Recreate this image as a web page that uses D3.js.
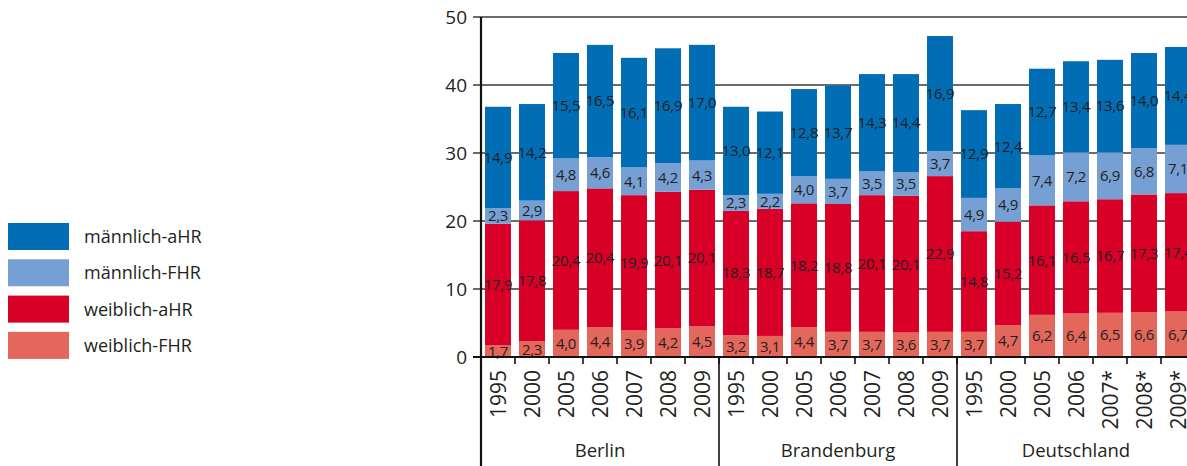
<!DOCTYPE html>
<html>
<head>
<meta charset="utf-8">
<script src="https://cdn.jsdelivr.net/npm/d3@7"></script>
<style>
  body { margin: 0; background: #fff; }
  svg { display: block; font-family: "Open Sans", sans-serif; }
</style>
</head>
<body>
<svg width="1187" height="466"></svg>
<script>
const svg = d3.select("svg");

// groups and years (x axis)
const groups = ["Berlin", "Brandenburg", "Deutschland"];
const years = [
    ["1995", "2000", "2005", "2006", "2007", "2008", "2009"],
    ["1995", "2000", "2005", "2006", "2007", "2008", "2009"],
    ["1995", "2000", "2005", "2006", "2007*", "2008*", "2009*"]
];

// series, bottom to top (Berlin, Brandenburg, Deutschland)
const weiblichFHR = [1.7, 2.3, 4.0, 4.4, 3.9, 4.2, 4.5,  3.2, 3.1, 4.4, 3.7, 3.7, 3.6, 3.7,  3.7, 4.7, 6.2, 6.4, 6.5, 6.6, 6.7];
const weiblichAHR = [17.9, 17.8, 20.4, 20.4, 19.9, 20.1, 20.1,  18.3, 18.7, 18.2, 18.8, 20.1, 20.1, 22.9,  14.8, 15.2, 16.1, 16.5, 16.7, 17.3, 17.4];
const maennlichFHR = [2.3, 2.9, 4.8, 4.6, 4.1, 4.2, 4.3,  2.3, 2.2, 4.0, 3.7, 3.5, 3.5, 3.7,  4.9, 4.9, 7.4, 7.2, 6.9, 6.8, 7.1];
const maennlichAHR = [14.9, 14.2, 15.5, 16.5, 16.1, 16.9, 17.0,  13.0, 12.1, 12.8, 13.7, 14.3, 14.4, 16.9,  12.9, 12.4, 12.7, 13.4, 13.6, 14.0, 14.4];

const seriesNames = ["weiblich-FHR", "weiblich-aHR", "männlich-FHR", "männlich-aHR"];
const seriesValues = [weiblichFHR, weiblichAHR, maennlichFHR, maennlichAHR];
const colors = ["#e3675b", "#d80027", "#769fd3", "#006db5"];
const yTicks = [0, 10, 20, 30, 40, 50];

// build table for d3.stack
const rows = [];
groups.forEach((g, gi) => {
    years[gi].forEach((yr, yi) => {
        const idx = gi * 7 + yi;
        const row = { key: g + "|" + yr, group: g, year: yr };
        seriesNames.forEach((s, si) => row[s] = seriesValues[si][idx]);
        rows.push(row);
    });
});

const stacked = d3.stack().keys(seriesNames)(rows);

const x0 = 481;
const bandW = 34;
const x = d3.scaleBand()
    .domain(rows.map(d => d.key))
    .range([x0, x0 + bandW * rows.length])
    .paddingInner(8 / 34)
    .paddingOuter(4 / 34);

const y = d3.scaleLinear().domain([0, 50]).range([357, 17]);

// gridlines
svg.append("g")
    .selectAll("line")
    .data(yTicks.filter(d => d > 0))
    .enter().append("line")
    .attr("x1", x0 - 8)
    .attr("x2", 1187)
    .attr("y1", d => y(d))
    .attr("y2", d => y(d))
    .attr("stroke", "#3a3a3a")
    .attr("stroke-width", 1.6);

// y tick labels
svg.append("g")
    .selectAll("text")
    .data(yTicks)
    .enter().append("text")
    .attr("x", x0 - 14)
    .attr("y", d => y(d))
    .attr("dy", "0.36em")
    .attr("text-anchor", "end")
    .attr("font-size", 19)
    .attr("fill", "#231f20")
    .text(d => d);

// bars
const layers = svg.append("g")
    .selectAll("g")
    .data(stacked)
    .enter().append("g")
    .attr("fill", (d, i) => colors[i]);

layers.selectAll("rect")
    .data(d => d)
    .enter().append("rect")
    .attr("x", d => x(d.data.key))
    .attr("width", x.bandwidth())
    .attr("y", d => y(d[1]))
    .attr("height", d => y(d[0]) - y(d[1]));

// value labels
layers.selectAll("text")
    .data((d, i) => d.map(p => ({ p: p, key: seriesNames[i] })))
    .enter().append("text")
    .attr("x", d => x(d.p.data.key) + x.bandwidth() / 2)
    .attr("y", d => y((d.p[0] + d.p[1]) / 2))
    .attr("dy", "0.36em")
    .attr("text-anchor", "middle")
    .attr("font-size", 15)
    .attr("letter-spacing", -0.3)
    .attr("fill", "#231f20")
    .text(d => d3.format(".1f")(d.p.data[d.key]).replace(".", ","));

// zero axis line
svg.append("line")
    .attr("x1", x0 - 8)
    .attr("x2", 1187)
    .attr("y1", y(0))
    .attr("y2", y(0))
    .attr("stroke", "#111")
    .attr("stroke-width", 2);

// small ticks between bars
svg.append("g")
    .selectAll("line")
    .data(d3.range(rows.length + 1))
    .enter().append("line")
    .attr("x1", i => x0 + i * bandW)
    .attr("x2", i => x0 + i * bandW)
    .attr("y1", y(0))
    .attr("y2", y(0) + 7)
    .attr("stroke", "#111")
    .attr("stroke-width", 1.6);

// y axis and group separators
const sepX = [0, 7, 14, 21].map(i => x0 + i * bandW);
svg.append("g")
    .selectAll("line")
    .data(sepX)
    .enter().append("line")
    .attr("x1", d => d)
    .attr("x2", d => d)
    .attr("y1", (d, i) => i === 0 ? y(50) : y(0))
    .attr("y2", 466)
    .attr("stroke", "#111")
    .attr("stroke-width", (d, i) => i === 0 ? 2.2 : 1.6);

// year labels (rotated)
svg.append("g")
    .selectAll("text")
    .data(rows)
    .enter().append("text")
    .attr("transform", d => `translate(${x(d.key) + x.bandwidth() / 2},370) rotate(-90)`)
    .attr("dy", "0.36em")
    .attr("text-anchor", "end")
    .attr("font-size", 21)
    .attr("fill", "#231f20")
    .text(d => d.year);

// group labels
svg.append("g")
    .selectAll("text")
    .data(groups)
    .enter().append("text")
    .attr("x", (d, i) => x0 + (i * 7 + 3.5) * bandW)
    .attr("y", 457)
    .attr("text-anchor", "middle")
    .attr("font-size", 18.5)
    .attr("fill", "#231f20")
    .text(d => d);

// legend (top to bottom: männlich-aHR first)
const legendItems = seriesNames.map((s, i) => ({ name: s, color: colors[i] })).reverse();
const legend = svg.append("g")
    .selectAll("g")
    .data(legendItems)
    .enter().append("g")
    .attr("transform", (d, i) => `translate(8,${223 + i * 36.3})`);

legend.append("rect")
    .attr("width", 61)
    .attr("height", 27)
    .attr("fill", d => d.color);

legend.append("text")
    .attr("x", 76)
    .attr("y", 13.5)
    .attr("dy", "0.36em")
    .attr("font-size", 18)
    .attr("fill", "#231f20")
    .text(d => d.name);
</script>
</body>
</html>
